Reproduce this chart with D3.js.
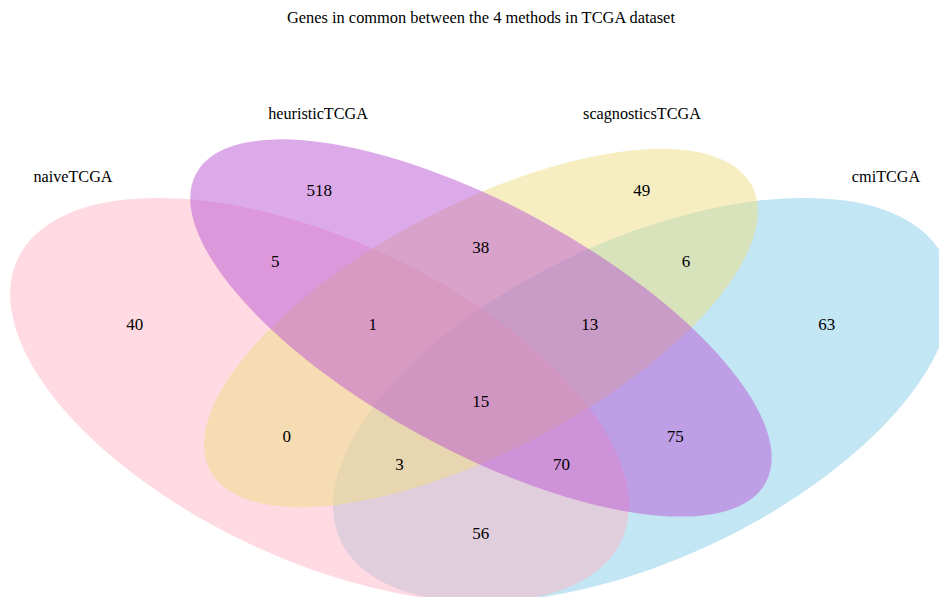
<!DOCTYPE html>
<html>
<head>
<meta charset="utf-8">
<script src="https://cdn.jsdelivr.net/npm/d3@7"></script>
<style>
  html, body { margin: 0; padding: 0; background: #ffffff; }
  svg { display: block; }
  text { font-family: "Liberation Serif", "Times New Roman", serif; fill: #000; }
</style>
</head>
<body>
<svg id="chart"></svg>
<script>
// Four-set Venn diagram: genes shared between the gene-selection methods.
const W = 939, H = 597;

const title = "Genes in common between the 4 methods in TCGA dataset";

// Sets
const categories = ["naiveTCGA", "heuristicTCGA", "scagnosticsTCGA", "cmiTCGA"];
const setColors = ["#FFB5C5", "#BA55D3", "#EEDD82", "#87CEEB"];

// Region membership (which sets each region lies in) and its gene count
const regionSets = [
  ["naiveTCGA"],
  ["heuristicTCGA"],
  ["scagnosticsTCGA"],
  ["cmiTCGA"],
  ["naiveTCGA", "heuristicTCGA"],
  ["heuristicTCGA", "scagnosticsTCGA"],
  ["scagnosticsTCGA", "cmiTCGA"],
  ["naiveTCGA", "heuristicTCGA", "scagnosticsTCGA"],
  ["heuristicTCGA", "scagnosticsTCGA", "cmiTCGA"],
  ["naiveTCGA", "heuristicTCGA", "scagnosticsTCGA", "cmiTCGA"],
  ["naiveTCGA", "scagnosticsTCGA"],
  ["heuristicTCGA", "cmiTCGA"],
  ["naiveTCGA", "scagnosticsTCGA", "cmiTCGA"],
  ["naiveTCGA", "heuristicTCGA", "cmiTCGA"],
  ["naiveTCGA", "cmiTCGA"]
];
const regionCounts = [40, 518, 49, 63, 5, 38, 6, 1, 13, 15, 0, 75, 3, 70, 56];

// Layout (normalised plot units: x, y in [0,1], y upward)
const ellipseCx  = [0.3403, 0.5122, 0.5122, 0.6842];
const ellipseCy  = [0.330, 0.4506, 0.4506, 0.330];
const ellipseA   = [0.558, 0.5427, 0.5126, 0.558];
const ellipseB   = [0.268, 0.206, 0.206, 0.268];
const ellipseRot = [25, 28.5, -27.7, -25];
const drawOrder  = [3, 0, 2, 1];

const regionLabelX = [0.1435, 0.340, 0.6835, 0.8805, 0.293, 0.512, 0.7305, 0.397, 0.628, 0.512, 0.3055, 0.719, 0.4255, 0.598, 0.512];
const regionLabelY = [0.457, 0.681, 0.682, 0.457, 0.5635, 0.587, 0.5635, 0.457, 0.457, 0.3285, 0.270, 0.270, 0.2235, 0.2235, 0.1065];

const catLabelX = [0.0777, 0.3387, 0.6837, 0.9436];
const catLabelY = [0.7052, 0.8107, 0.8107, 0.7052];

const x = d3.scaleLinear().domain([0, 1]).range([0, W]);
const y = d3.scaleLinear().domain([0, 1]).range([H, 0]);
const r = d3.scaleLinear().domain([0, 1]).range([0, H]);

const svg = d3.select("#chart").attr("width", W).attr("height", H);

svg.append("rect").attr("width", W).attr("height", H).attr("fill", "#ffffff");

// Set ellipses
svg.append("g").selectAll("ellipse")
  .data(drawOrder)
  .join("ellipse")
  .attr("transform", i => `translate(${x(ellipseCx[i])},${y(ellipseCy[i])}) rotate(${ellipseRot[i]})`)
  .attr("rx", i => r(ellipseA[i]))
  .attr("ry", i => r(ellipseB[i]))
  .attr("fill", i => setColors[i])
  .attr("fill-opacity", 0.5)
  .attr("stroke", "none");

// Region counts
svg.append("g").selectAll("text")
  .data(regionCounts.map((v, i) => ({ v, i, sets: regionSets[i] })))
  .join("text")
  .attr("x", d => x(regionLabelX[d.i]))
  .attr("y", d => y(regionLabelY[d.i]))
  .attr("dy", "0.35em")
  .attr("text-anchor", "middle")
  .attr("font-size", 17)
  .text(d => d.v);

// Set names
svg.append("g").selectAll("text")
  .data(categories)
  .join("text")
  .attr("x", (d, i) => x(catLabelX[i]))
  .attr("y", (d, i) => y(catLabelY[i]))
  .attr("dy", "0.35em")
  .attr("text-anchor", "middle")
  .attr("font-size", 16.2)
  .text(d => d);

// Title
svg.append("text")
  .attr("x", x(0.5122))
  .attr("y", y(0.9715))
  .attr("dy", "0.35em")
  .attr("text-anchor", "middle")
  .attr("font-size", 16.4)
  .text(title);
</script>
</body>
</html>
